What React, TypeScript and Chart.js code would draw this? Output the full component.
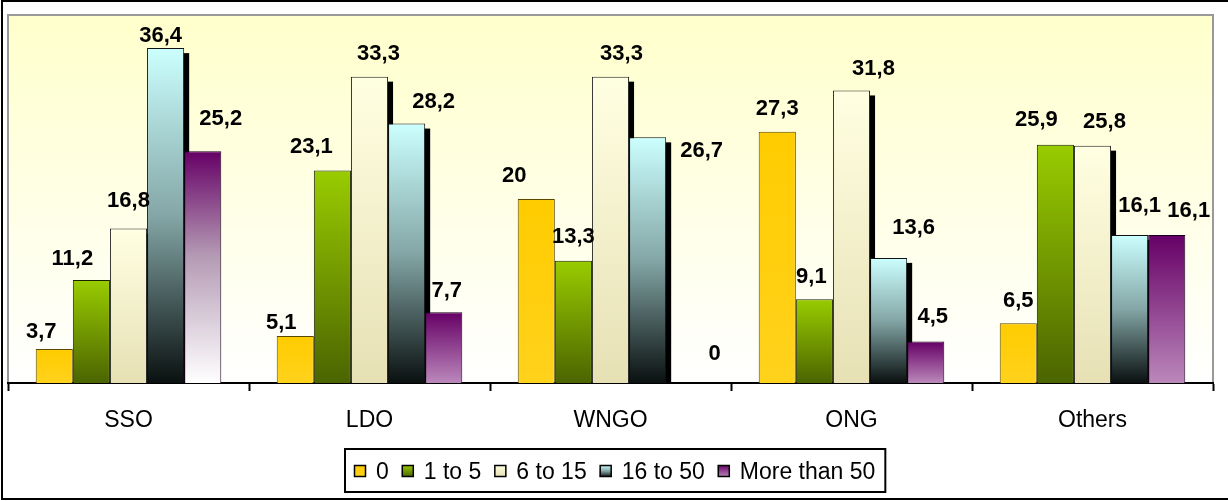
import React, { useEffect, useRef } from "react";
import { Chart, registerables } from "chart.js";

Chart.register(...registerables);

const categories = ["SSO", "LDO", "WNGO", "ONG", "Others"];
const seriesNames = ["0", "1 to 5", "6 to 15", "16 to 50", "More than 50"];
const series0 = [3.7, 5.1, 20, 27.3, 6.5];
const series1to5 = [11.2, 23.1, 13.3, 9.1, 25.9];
const series6to15 = [16.8, 33.3, 33.3, 31.8, 25.8];
const series16to50 = [36.4, 28.2, 26.7, 13.6, 16.1];
const seriesMore50 = [25.2, 7.7, 0, 4.5, 16.1];
const yMax = 40;

// label nudges (style): [dx from bar centre, gap between bar top and text baseline]
const labelNudges: [number, number][][] = [
  [[-13, 11], [-14, 7], [-22, 17], [0, 17], [0, 16]],
  [[-19, 15], [-21, 17], [0, 18], [-3, 16], [-19, 19]],
  [[0, 21], [9, 17], [11, 17], [22, 15], [12, 18]],
  [[-5, 6], [27, 16], [54, -20], [25, 24], [10, 23]],
  [[18, 26], [3, 15], [30, 23], [7, 19], [22, 18]],
];

type Stops = [number, string][];

const gradientStyles: ((i: number) => Stops)[] = [
  () => [[0, "#FFCC00"], [1, "#FFD21C"]],
  () => [[0, "#99CC00"], [1, "#4B6400"]],
  () => [[0, "#FFFFE2"], [1, "#E6E0B4"]],
  () => [[0, "#CCFFFF"], [0.5, "#84A6A6"], [1, "#0A1010"]],
  (i) =>
    i === 0
      ? [[0, "#660066"], [0.45, "#B49AB4"], [1, "#FFFFFF"]]
      : [[0, "#660066"], [1, "#BB88BB"]],
];
const borderStyles = ["#5a4800", "#1a2200", "#222222", "#111111", "#1a001a"];
const shadowSeries = [false, false, true, true, false];
const FONT = '"Liberation Sans", Arial, Helvetica, sans-serif';

function fmt(v: number) {
  return String(v).replace(".", ",");
}

function makeBg(si: number) {
  return (c: any) => {
    const stops = gradientStyles[si](c.dataIndex ?? 0);
    const chart = c.chart;
    if (c.type !== "data" || !chart.scales || !chart.scales.y) return stops[0][1];
    const ys = chart.scales.y;
    const top = ys.getPixelForValue(c.raw);
    let base = ys.getPixelForValue(0);
    if (!isFinite(top) || !isFinite(base)) return stops[0][1];
    if (base - top < 1) base = top + 1;
    const g = chart.ctx.createLinearGradient(0, top, 0, base);
    stops.forEach(([o, col]) => g.addColorStop(o, col));
    return g;
  };
}

const plotPlugin = {
  id: "plotBg",
  beforeDraw(chart: any) {
    const { ctx, chartArea: a, width, height } = chart;
    ctx.save();
    ctx.fillStyle = "#ffffff";
    ctx.fillRect(0, 0, width, height);
    const g = ctx.createLinearGradient(0, a.top, 0, a.bottom);
    g.addColorStop(0, "#FFFFCC");
    g.addColorStop(1, "#FFFFFF");
    ctx.fillStyle = g;
    ctx.fillRect(a.left, a.top, a.right - a.left, a.bottom - a.top);
    ctx.strokeStyle = "#999999";
    ctx.lineWidth = 2;
    ctx.strokeRect(a.left, a.top, a.right - a.left, a.bottom - a.top);
    ctx.restore();
  },
  beforeDatasetsDraw(chart: any) {
    const { ctx } = chart;
    ctx.save();
    ctx.fillStyle = "#000000";
    chart.data.datasets.forEach((_: any, di: number) => {
      if (!shadowSeries[di]) return;
      const meta = chart.getDatasetMeta(di);
      meta.data.forEach((el: any) => {
        const w = el.width;
        if (el.base - el.y < 2) return;
        ctx.fillRect(el.x - w / 2 + 5, el.y + 5, w, el.base - el.y - 5);
      });
    });
    ctx.restore();
  },
  afterDatasetsDraw(chart: any) {
    const { ctx } = chart;
    ctx.save();
    ctx.font = `bold 22px ${FONT}`;
    ctx.fillStyle = "#000";
    ctx.textAlign = "center";
    ctx.textBaseline = "alphabetic";
    chart.data.datasets.forEach((ds: any, di: number) => {
      const meta = chart.getDatasetMeta(di);
      meta.data.forEach((el: any, i: number) => {
        const [dx, gap] = labelNudges[di][i];
        ctx.fillText(fmt(ds.data[i]), el.x + dx, el.y - gap);
      });
    });
    ctx.restore();
  },
  afterDraw(chart: any) {
    const { ctx, width } = chart;
    ctx.save();
    ctx.font = `23px ${FONT}`;
    const sq = 12;
    const gapText = 10;
    const gapItem = 13;
    const padL = 9;
    const padR = 10;
    const tws = seriesNames.map((s) => ctx.measureText(s).width);
    let total = padL + padR;
    tws.forEach((tw, i) => {
      total += sq + gapText + tw + (i > 0 ? gapItem : 0);
    });
    const bx = Math.round(width / 2 - total / 2) + 1;
    const by = 449;
    const bh = 43;
    ctx.fillStyle = "#fff";
    ctx.fillRect(bx, by, total, bh);
    ctx.strokeStyle = "#000";
    ctx.lineWidth = 2;
    ctx.strokeRect(bx, by, total, bh);
    let x = bx + padL;
    seriesNames.forEach((name, i) => {
      const sy = 465;
      const stops = gradientStyles[i](1);
      const g = ctx.createLinearGradient(0, sy, 0, sy + sq);
      stops.forEach(([o, col]) => g.addColorStop(o, col));
      ctx.fillStyle = g;
      ctx.fillRect(x, sy, sq, sq);
      ctx.strokeStyle = "#000";
      ctx.lineWidth = 1.5;
      ctx.strokeRect(x + 0.5, sy + 0.5, sq - 1, sq - 1);
      ctx.fillStyle = "#000";
      ctx.textAlign = "left";
      ctx.textBaseline = "alphabetic";
      ctx.fillText(name, x + sq + gapText, 479);
      x += sq + gapText + tws[i] + gapItem;
    });
    ctx.strokeStyle = "#000";
    ctx.lineWidth = 2;
    ctx.strokeRect(2, 1, width + 50, 498);
    ctx.restore();
  },
};

export default function App() {
  const ref = useRef<HTMLCanvasElement | null>(null);
  useEffect(() => {
    document.body.style.margin = "0";
    const canvas = ref.current;
    if (!canvas) return;
    const allSeries = [series0, series1to5, series6to15, series16to50, seriesMore50];
    const chart = new Chart(canvas, {
      type: "bar",
      data: {
        labels: categories,
        datasets: allSeries.map((d, si) => ({
          label: seriesNames[si],
          data: d,
          backgroundColor: makeBg(si),
          borderColor: borderStyles[si],
          borderWidth: 1,
          barPercentage: 1,
          categoryPercentage: 0.77,
        })),
      },
      options: {
        responsive: false,
        animation: false,
        devicePixelRatio: 1,
        layout: { padding: { left: 8, top: 15, right: 15, bottom: 0 } },
        plugins: { legend: { display: false }, tooltip: { enabled: false } },
        scales: {
          x: {
            type: "category",
            offset: true,
            afterFit: (s: any) => {
              s.height = 118;
            },
            grid: {
              offset: true,
              drawOnChartArea: false,
              drawTicks: true,
              tickLength: 8,
              tickColor: "#000",
              tickWidth: 2,
              color: "#000",
            },
            border: { display: true, color: "#000", width: 2 },
            ticks: {
              color: "#000",
              padding: 16,
              font: { size: 23, family: FONT },
              maxRotation: 0,
            },
          },
          y: { display: false, min: 0, max: yMax },
        },
      },
      plugins: [plotPlugin],
    } as any);
    return () => chart.destroy();
  }, []);
  return (
    <div style={{ width: 1228, height: 501 }}>
      <canvas ref={ref} width={1228} height={501} style={{ display: "block" }} />
    </div>
  );
}
